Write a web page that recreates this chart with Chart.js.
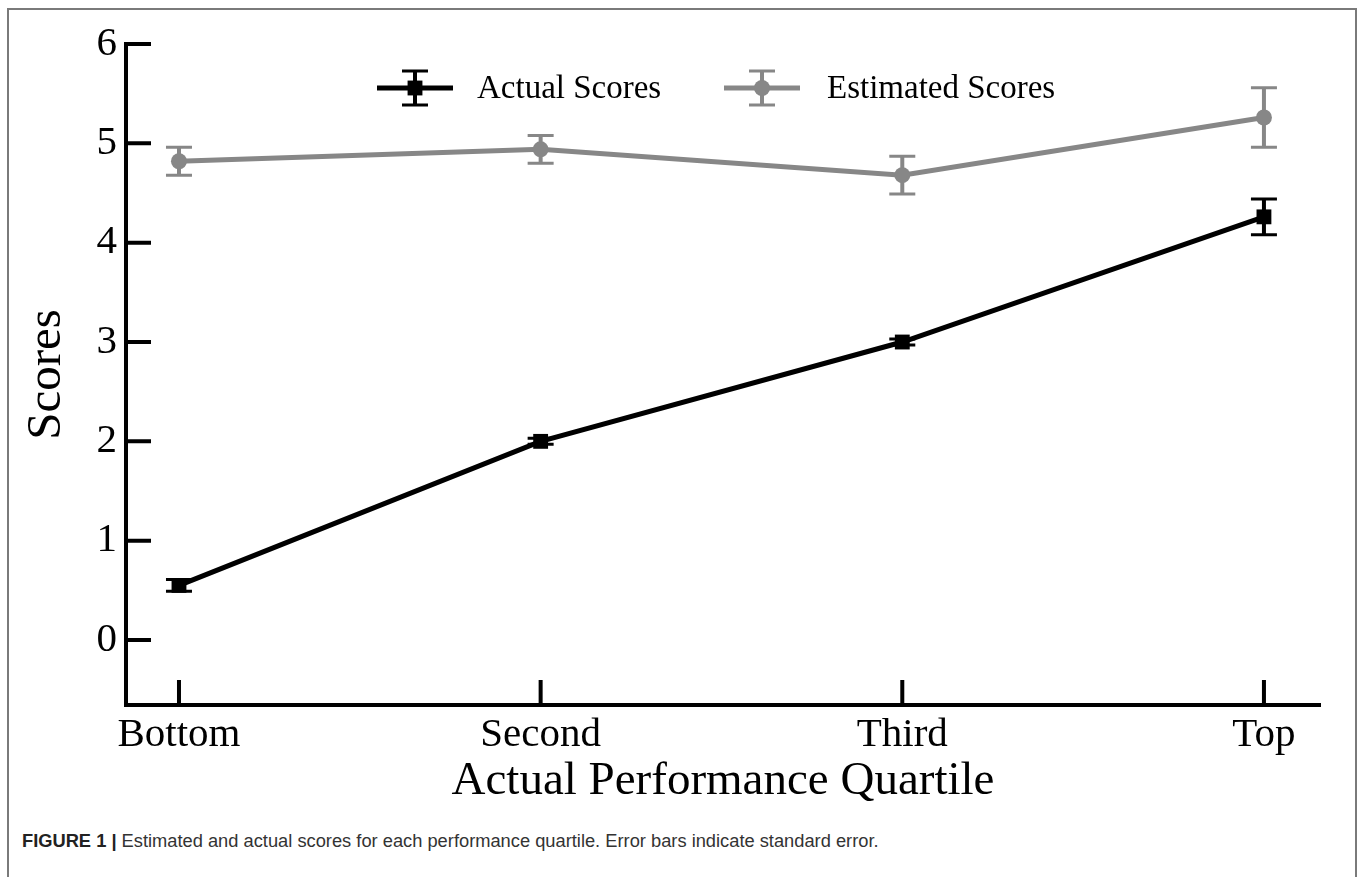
<!DOCTYPE html>
<html>
<head>
<meta charset="utf-8">
<script src="https://cdn.jsdelivr.net/npm/chart.js@4.4.1/dist/chart.umd.min.js"></script>
<style>
  body { margin: 0; background: #fff; width: 1357px; height: 877px; overflow: hidden; position: relative; }
  #frame { position: absolute; left: 7px; top: 8px; width: 1346px; height: 900px; border: 2px solid #7a7a7a; }
  #wrap { position: absolute; left: 0; top: 0; width: 1357px; height: 820px; }
  #caption { position: absolute; left: 22px; top: 830px; font-family: "Liberation Sans", Arial, sans-serif; font-size: 18.3px; color: #333; white-space: nowrap; }
  #caption b { color: #222; }
</style>
</head>
<body>
<div id="frame"></div>
<div id="wrap"><canvas id="chart"></canvas></div>
<div id="caption"><b>FIGURE 1 |</b> Estimated and actual scores for each performance quartile. Error bars indicate standard error.</div>
<script>
var quartiles = ["Bottom", "Second", "Third", "Top"];
var yTicks = [0, 1, 2, 3, 4, 5, 6];
var actualScores = [0.55, 2.0, 3.0, 4.26];
var actualErr = [0.06, 0.03, 0.03, 0.18];
var estimatedScores = [4.82, 4.94, 4.68, 5.26];
var estimatedErr = [0.14, 0.14, 0.19, 0.30];

var serif = '"Liberation Serif", "Times New Roman", serif';

function points(vals) {
  return vals.map(function(v, i) { return { x: i, y: v }; });
}

// error bars, inward ticks and the legend are drawn here
var extras = {
  id: 'extras',
  beforeDatasetsDraw: function(chart) {
    var ctx = chart.ctx;
    var ys = chart.scales.y;
    chart.data.datasets.forEach(function(ds, di) {
      var meta = chart.getDatasetMeta(di);
      ctx.save();
      ctx.strokeStyle = ds.borderColor;
      meta.data.forEach(function(pt, i) {
        var top = ys.getPixelForValue(ds.values[i] + ds.errors[i]);
        var bot = ys.getPixelForValue(ds.values[i] - ds.errors[i]);
        ctx.lineWidth = 4;
        ctx.beginPath();
        ctx.moveTo(pt.x, top); ctx.lineTo(pt.x, bot);
        ctx.stroke();
        ctx.lineWidth = 3;
        ctx.beginPath();
        ctx.moveTo(pt.x - 13, top); ctx.lineTo(pt.x + 13, top);
        ctx.moveTo(pt.x - 13, bot); ctx.lineTo(pt.x + 13, bot);
        ctx.stroke();
      });
      ctx.restore();
    });
  },
  afterDraw: function(chart) {
    var ctx = chart.ctx;
    var xs = chart.scales.x, ys = chart.scales.y;
    var area = chart.chartArea;
    ctx.save();
    ctx.strokeStyle = '#000';
    ctx.lineWidth = 4;
    ctx.beginPath();
    yTicks.forEach(function(t) {
      var y = ys.getPixelForValue(t);
      ctx.moveTo(area.left, y); ctx.lineTo(area.left + 25, y);
    });
    quartiles.forEach(function(q, i) {
      var x = xs.getPixelForValue(i);
      ctx.moveTo(x, area.bottom); ctx.lineTo(x, area.bottom - 25);
    });
    ctx.stroke();

    // legend
    var legendPos = [{ x: 415, text: 477 }, { x: 762, text: 827 }];
    var ly = 88;
    chart.data.datasets.forEach(function(ds, di) {
      var p = legendPos[di];
      ctx.strokeStyle = ds.borderColor;
      ctx.fillStyle = ds.borderColor;
      ctx.lineWidth = 5;
      ctx.beginPath();
      ctx.moveTo(p.x - 38, ly); ctx.lineTo(p.x + 38, ly);
      ctx.stroke();
      ctx.lineWidth = 4;
      ctx.beginPath();
      ctx.moveTo(p.x, ly - 17); ctx.lineTo(p.x, ly + 17);
      ctx.stroke();
      ctx.lineWidth = 3;
      ctx.beginPath();
      ctx.moveTo(p.x - 13, ly - 17); ctx.lineTo(p.x + 13, ly - 17);
      ctx.moveTo(p.x - 13, ly + 17); ctx.lineTo(p.x + 13, ly + 17);
      ctx.stroke();
      Chart.helpers.drawPoint(ctx, { pointStyle: ds.pointStyle, radius: ds.pointRadius, borderWidth: 0 }, p.x, ly);
      ctx.fillStyle = '#000';
      ctx.font = '33px ' + serif;
      ctx.textBaseline = 'middle';
      ctx.fillText(ds.label, p.text, ly + 1);
    });
    ctx.restore();
  }
};

new Chart(document.getElementById('chart').getContext('2d'), {
  type: 'line',
  data: {
    datasets: [
      {
        label: 'Actual Scores',
        data: points(actualScores),
        values: actualScores,
        errors: actualErr,
        borderColor: '#000',
        backgroundColor: '#000',
        borderWidth: 5,
        pointStyle: 'rect',
        pointRadius: 10.5,
        pointBorderWidth: 0
      },
      {
        label: 'Estimated Scores',
        data: points(estimatedScores),
        values: estimatedScores,
        errors: estimatedErr,
        borderColor: '#878787',
        backgroundColor: '#878787',
        borderWidth: 5,
        pointStyle: 'circle',
        pointRadius: 8,
        pointBorderWidth: 0
      }
    ]
  },
  options: {
    responsive: true,
    maintainAspectRatio: false,
    animation: false,
    layout: { padding: { top: 44, right: 37, left: 0, bottom: 0 } },
    plugins: { legend: { display: false }, tooltip: { enabled: false } },
    scales: {
      x: {
        type: 'linear',
        min: -0.1465,
        max: 3.155,
        afterBuildTicks: function(scale) {
          scale.ticks = quartiles.map(function(q, i) { return { value: i }; });
        },
        afterFit: function(scale) { scale.height = 115; },
        grid: { display: false, drawTicks: false },
        border: { color: '#000', width: 4 },
        ticks: {
          color: '#000',
          padding: 6,
          maxRotation: 0,
          font: { family: serif, size: 41 },
          callback: function(v) { return quartiles[v]; }
        },
        title: {
          display: true,
          text: 'Actual Performance Quartile',
          color: '#000',
          font: { family: serif, size: 47 },
          padding: { top: 0, bottom: 10 }
        }
      },
      y: {
        min: -0.654,
        max: 6,
        afterBuildTicks: function(scale) {
          scale.ticks = yTicks.map(function(t) { return { value: t }; });
        },
        afterFit: function(scale) { scale.width = 126; },
        grid: { display: false, drawTicks: false },
        border: { color: '#000', width: 4 },
        ticks: {
          color: '#000',
          padding: 9,
          font: { family: serif, size: 41 }
        },
        title: {
          display: true,
          text: 'Scores',
          color: '#000',
          font: { family: serif, size: 49 },
          padding: { top: 18, bottom: 0 }
        }
      }
    }
  },
  plugins: [extras]
});
</script>
</body>
</html>
